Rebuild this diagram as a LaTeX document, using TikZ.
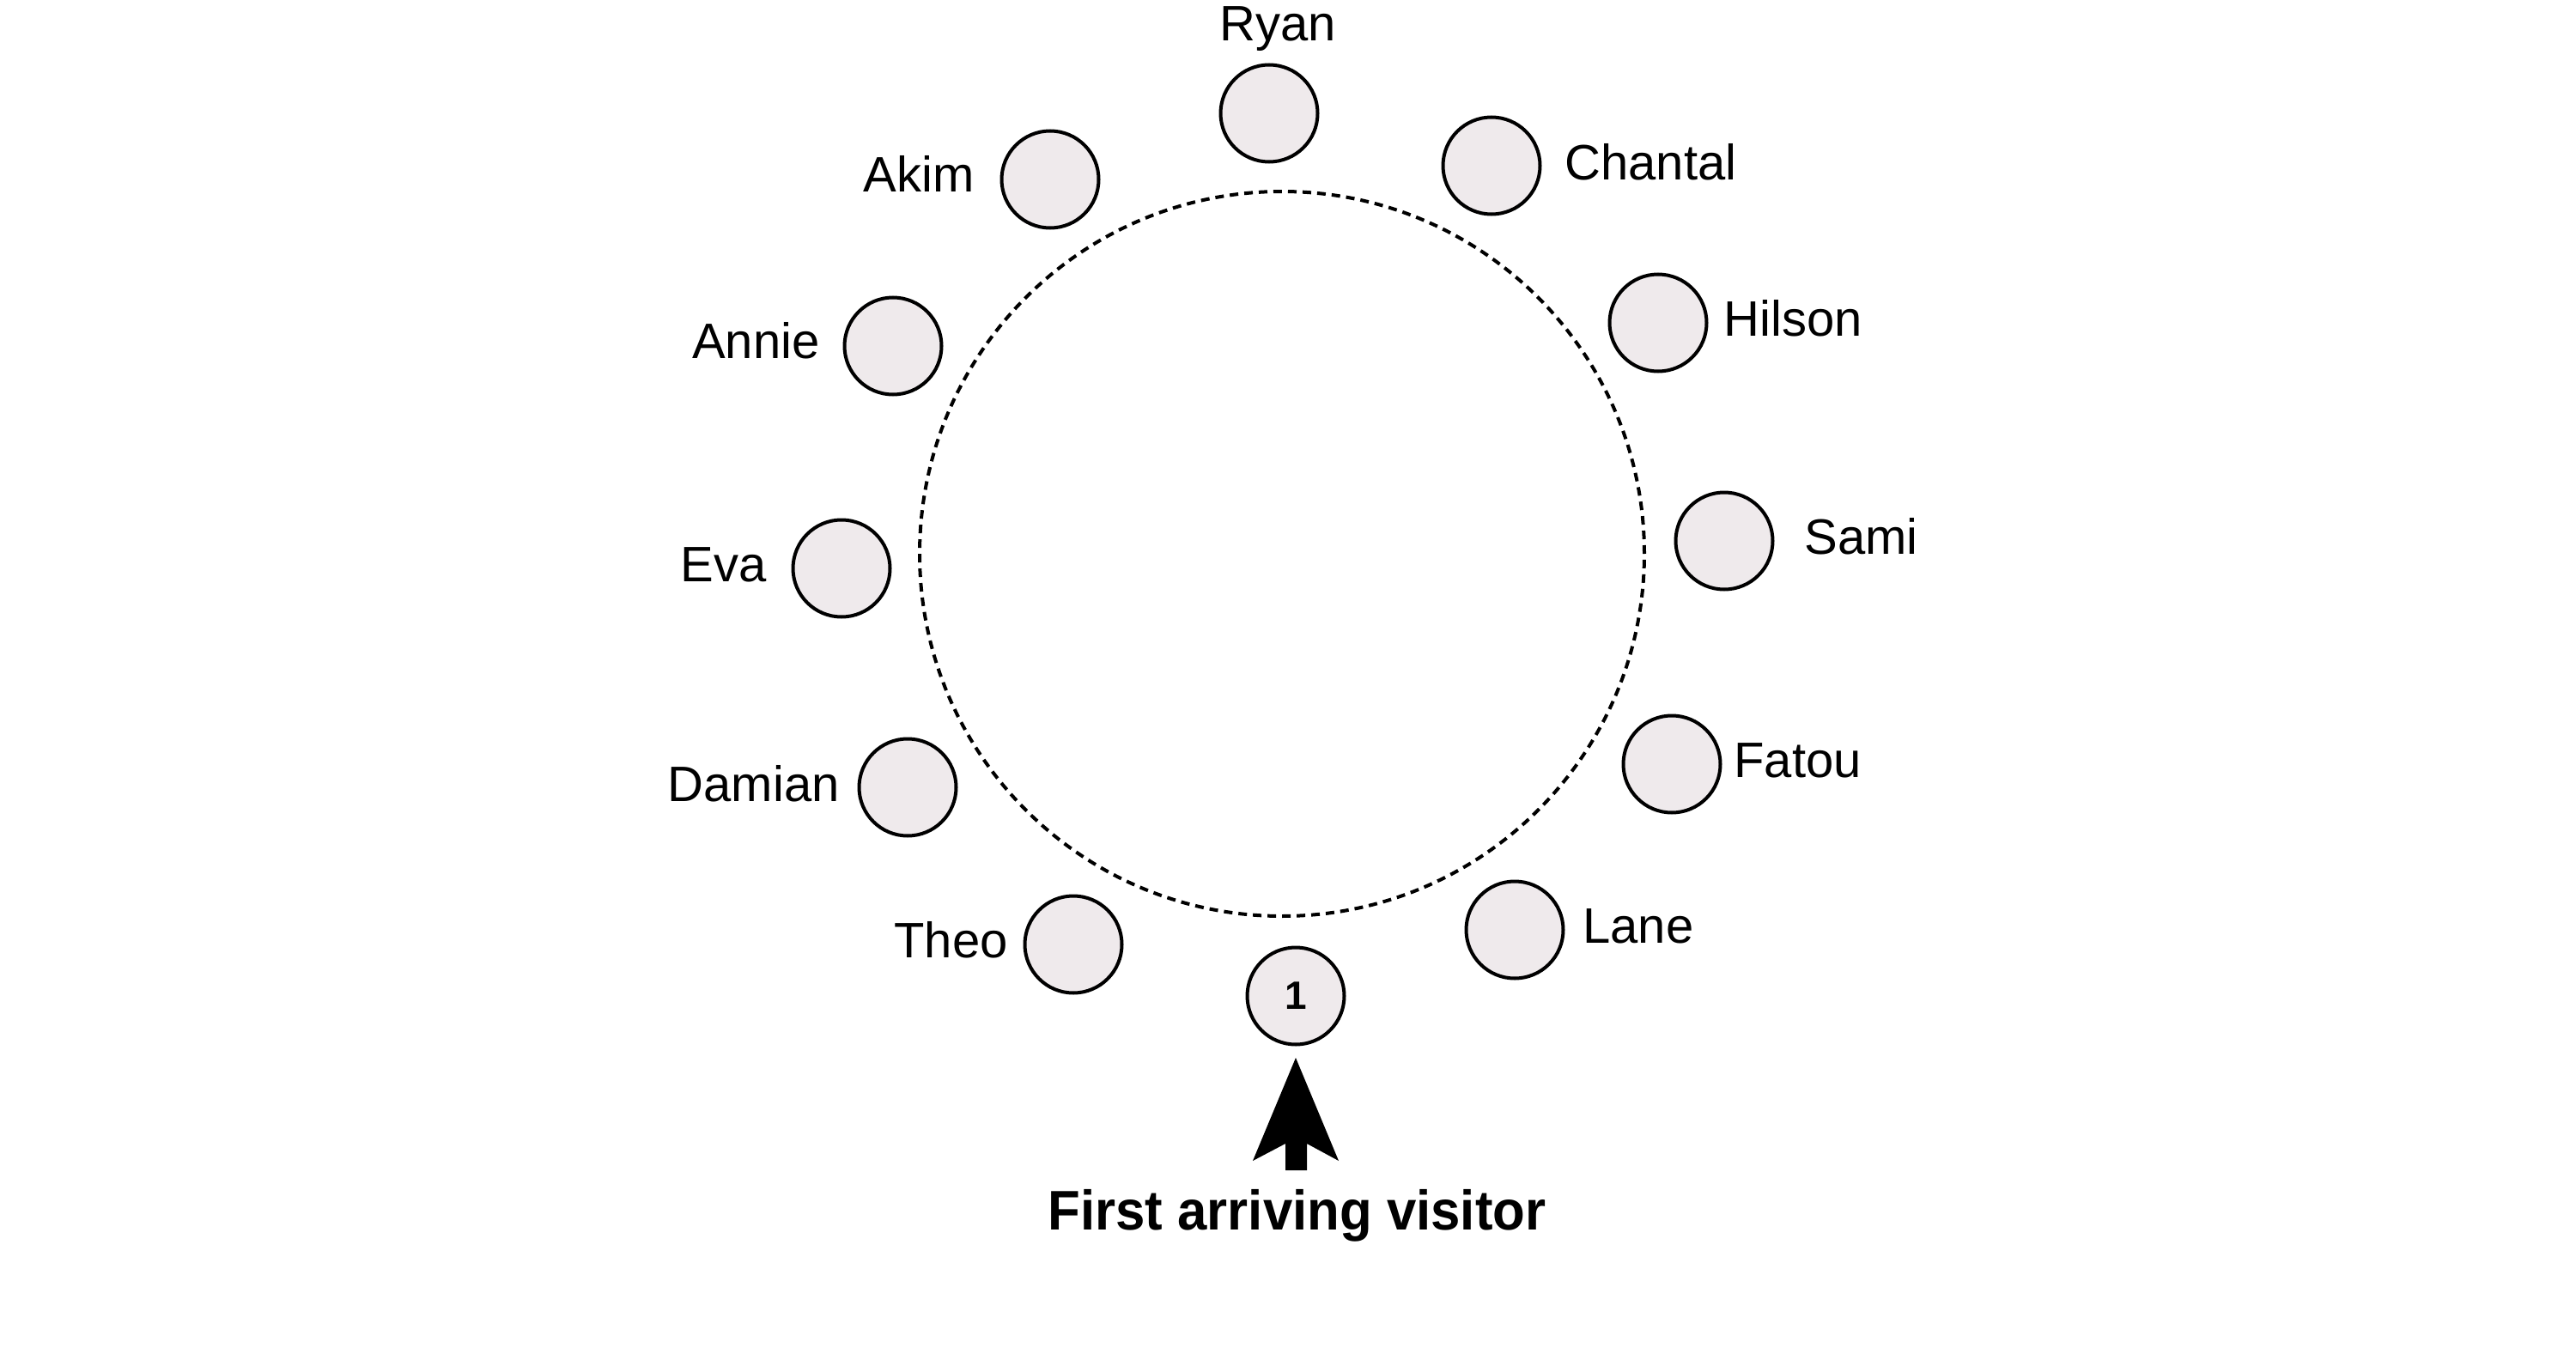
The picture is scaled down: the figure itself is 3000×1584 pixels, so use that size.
\documentclass[tikz,border=0pt]{standalone}
\usepackage{fontspec}
\usepackage{graphicx}
\setmainfont{Liberation Sans}
\definecolor{seatfill}{RGB}{239,234,236}
\tikzset{
  seat/.style={circle, draw=black, line width=2pt, fill=seatfill, minimum size=56.5pt, inner sep=0pt},
  seatnum/.style={font=\fontsize{23pt}{27pt}\selectfont\bfseries},
  namelbl/.style={inner sep=0pt, font=\fontsize{29pt}{34pt}\selectfont},
  namel/.style={namelbl, anchor=base east},
  namer/.style={namelbl, anchor=base west},
  ring/.style={line width=2pt, dash pattern=on 5pt off 3.5pt},
  caption/.style={inner sep=0pt, anchor=base, font=\fontsize{32.5pt}{38pt}\selectfont\bfseries}
}
\begin{document}
\begin{tikzpicture}[x=0.5pt, y=-0.5pt]
\useasboundingbox (0,0) rectangle (3000,1584);
% dotted table ring
\coordinate (ringc) at (1493,645);
\draw[ring] (ringc) circle [radius=211pt];
% seats
\node[seat] (ryan)    at (1478,132) {};
\node[seat] (chantal) at (1737,193) {};
\node[seat] (hilson)  at (1931,376) {};
\node[seat] (sami)    at (2008,630) {};
\node[seat] (fatou)   at (1947,890) {};
\node[seat] (lane)    at (1764,1083) {};
\node[seat, seatnum] (one) at (1509,1160) {1};
\node[seat] (theo)    at (1250,1100) {};
\node[seat] (damian)  at (1057,917) {};
\node[seat] (eva)     at (980,662) {};
\node[seat] (annie)   at (1040,403) {};
\node[seat] (akim)    at (1223,209) {};
% names
\node[namelbl, anchor=base] (ryanL) at (1488,48) {Ryan};
\node[namer] (chantalL) at (1822,209) {Chantal};
\node[namer] (hilsonL)  at (2007,391) {Hilson};
\node[namer] (samiL)    at (2101,645) {Sami};
\node[namer] (fatouL)   at (2019,905) {Fatou};
\node[namer] (laneL)    at (1843,1098) {Lane};
\node[namel] (theoL)    at (1174,1115) {Theo};
\node[namel] (damianL)  at (978,933) {Damian};
\node[namel] (evaL)     at (893,677) {Eva};
\node[namel] (annieL)   at (955,417) {Annie};
\node[namel] (akimL)    at (1135,223) {Akim};
% caption and arrow
\node[caption] (cap) at (1510.5,1432) {\scalebox{0.95}[1]{First arriving visitor}};
\coordinate (tip) at ([yshift=-6.75pt]one.south);
\fill[black] (tip) -- ++(50,120) -- ++(-37,-20) -- ++(0,31) -- ++(-25,0) -- ++(0,-31) -- ++(-38,20) -- cycle;
\end{tikzpicture}
\end{document}
